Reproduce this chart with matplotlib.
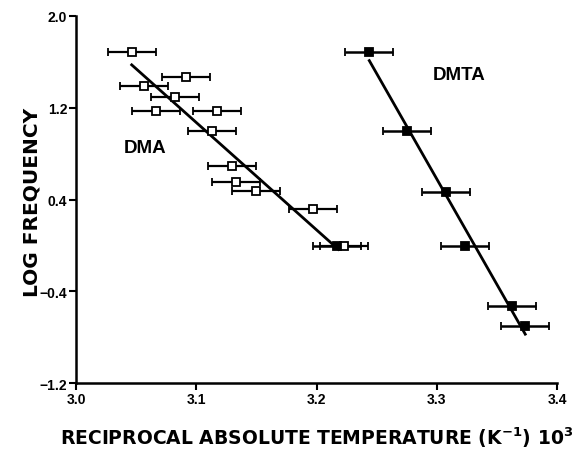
import matplotlib
matplotlib.use("Agg")
import matplotlib.pyplot as plt
import numpy as np

plt.rcParams['font.family'] = ['Liberation Sans', 'DejaVu Sans']
plt.rcParams['font.weight'] = 'bold'
plt.rcParams['mathtext.default'] = 'bf'

# DMA data (open squares)
dma_x = [3.0463, 3.0912, 3.0565, 3.0823, 3.0665, 3.1175, 3.1128, 3.1300, 3.1328, 3.1494, 3.1968, 3.2231]
dma_y = [1.69, 1.472, 1.394, 1.293, 1.174, 1.174, 0.994, 0.696, 0.554, 0.470, 0.316, -0.009]
dma_xerr = [0.02] * len(dma_x)
dma_fit_x = [3.0463, 3.2182]
dma_fit_y = [1.574, -0.035]

# DMTA data (filled squares)
dmta_x = [3.2168, 3.2439, 3.2755, 3.3074, 3.3235, 3.3623, 3.3736]
dmta_y = [-0.009, 1.69, 0.994, 0.467, -0.009, -0.528, -0.704]
dmta_xerr = [0.02] * len(dmta_x)
dmta_fit_x = [3.2439, 3.3736]
dmta_fit_y = [1.611, -0.774]

xticks = [3.0, 3.1, 3.2, 3.3, 3.4]
yticks = [-1.2, -0.4, 0.4, 1.2, 2.0]

fig = plt.figure(figsize=(5.76, 4.52), dpi=100)
ax = fig.add_axes([0.132, 0.1504, 0.835, 0.812])

ax.errorbar(dma_x, dma_y, xerr=dma_xerr, fmt='s', mfc='white', mec='black',
            ms=5.5, mew=1.3, ecolor='black', elinewidth=1.6, capsize=3, capthick=1.6, zorder=3)
ax.errorbar(dmta_x, dmta_y, xerr=dmta_xerr, fmt='s', mfc='black', mec='black',
            ms=5.5, mew=1.3, ecolor='black', elinewidth=1.8, capsize=3, capthick=1.8, zorder=3)
ax.plot(dma_fit_x, dma_fit_y, color='black', lw=2.0, zorder=2)
ax.plot(dmta_fit_x, dmta_fit_y, color='black', lw=2.0, zorder=2)

ax.text(3.0574, 0.853, 'DMA', fontsize=13.5, fontweight='bold', ha='center', va='center')
ax.text(3.319, 1.49, 'DMTA', fontsize=13.5, fontweight='bold', ha='center', va='center')

ax.set_xlim(3.0, 3.4)
ax.set_ylim(-1.2, 2.0)
ax.set_xticks(xticks)
ax.set_yticks(yticks)
ax.set_xticklabels([f'{v:.1f}' for v in xticks], fontsize=10, fontweight='bold')
ax.set_yticklabels([f'{v:.1f}'.replace('-', '\u2212') for v in yticks], fontsize=10, fontweight='bold')
ax.spines['top'].set_visible(False)
ax.spines['right'].set_visible(False)
for s in ['left', 'bottom']:
    ax.spines[s].set_linewidth(1.8)
ax.tick_params(direction='out', length=5, width=1.5, pad=1.5)

ax.set_xlabel('RECIPROCAL ABSOLUTE TEMPERATURE (K$^{-1}$) 10$^{3}$', fontsize=13.5,
              fontweight='bold', labelpad=13, family='DejaVu Sans')
fig.text(32 / 576, 1 - 202 / 452, 'LOG FREQUENCY', rotation=90, fontsize=14.5,
         fontweight='bold', family='DejaVu Sans', ha='center', va='center')

fig.savefig('out.png', dpi=100)
